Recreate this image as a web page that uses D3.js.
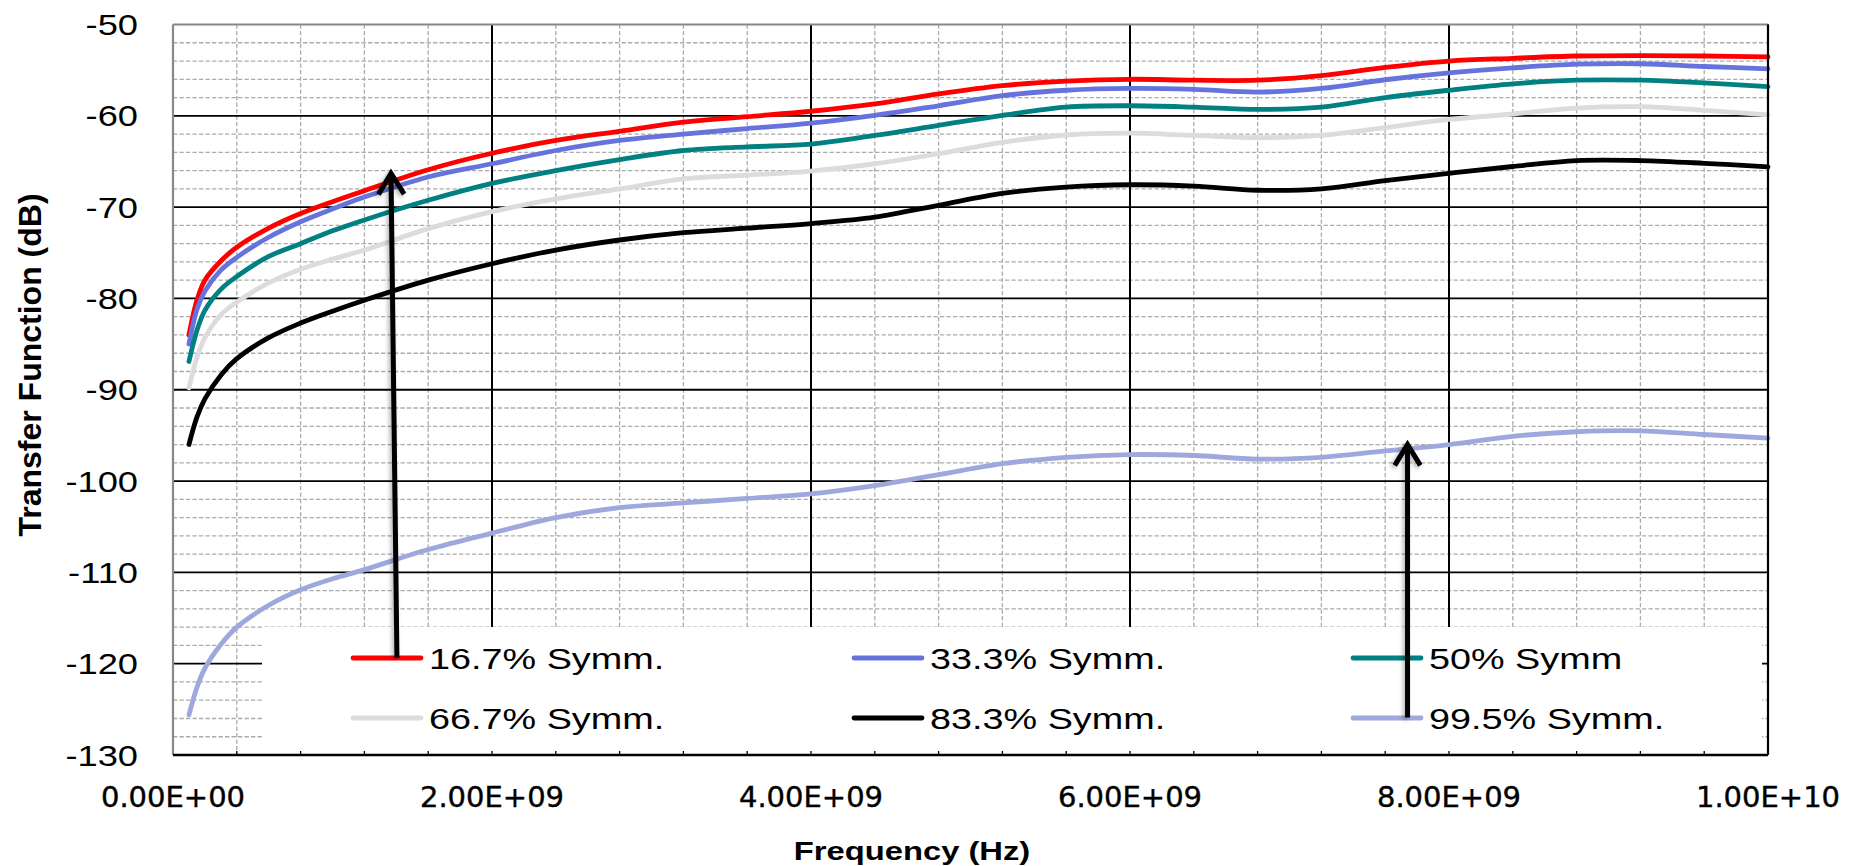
<!DOCTYPE html>
<html>
<head>
<meta charset="utf-8">
<script src="https://cdn.jsdelivr.net/npm/d3@7/dist/d3.min.js"></script>
<style>
  html, body { margin: 0; padding: 0; background: #fff; }
  svg { display: block; }
</style>
</head>
<body>
<svg id="chart" width="1863" height="866"></svg>
<script>
// Frequency sample points (GHz)
const freqGHz = [0.1, 0.15, 0.2, 0.3, 0.4, 0.6, 0.8, 1.0, 1.2, 1.6, 2.0, 2.4, 2.8, 3.2, 3.6, 4.0,
                 4.4, 4.8, 5.2, 5.6, 6.0, 6.4, 6.8, 7.2, 7.6, 8.0, 8.4, 8.8, 9.2, 9.6, 10.0];

// Transfer function (dB) for each symmetry level
const sym167 = [-84.0, -80.2, -78.0, -75.9, -74.4, -72.3, -70.7, -69.4, -68.2, -65.9, -64.1, -62.7, -61.7, -60.7, -60.1, -59.5,
                -58.7, -57.6, -56.7, -56.2, -56.0, -56.1, -56.1, -55.6, -54.7, -54.0, -53.7, -53.45, -53.4, -53.45, -53.55];
const sym333 = [-85.0, -81.2, -79.2, -76.9, -75.5, -73.3, -71.6, -70.2, -68.9, -66.7, -65.25, -63.8, -62.7, -62.0, -61.4, -60.8,
                -59.95, -58.9, -57.8, -57.2, -57.0, -57.1, -57.4, -57.0, -56.05, -55.3, -54.75, -54.35, -54.3, -54.6, -54.85];
const sym500 = [-86.9, -83.5, -81.3, -79.0, -77.6, -75.4, -74.0, -72.6, -71.4, -69.25, -67.4, -66.0, -64.8, -63.8, -63.4, -63.1,
                -62.15, -61.05, -59.95, -59.05, -58.9, -59.05, -59.3, -59.05, -58.0, -57.2, -56.5, -56.1, -56.1, -56.4, -56.8];
const sym667 = [-89.8, -86.5, -84.3, -81.8, -80.4, -78.3, -76.8, -75.7, -74.7, -72.35, -70.5, -69.1, -68.0, -66.9, -66.5, -66.05,
                -65.25, -64.15, -62.9, -62.1, -61.9, -62.15, -62.4, -62.15, -61.3, -60.4, -59.8, -59.15, -59.0, -59.4, -59.9];
const sym833 = [-96.0, -93.0, -91.0, -88.4, -86.6, -84.3, -82.7, -81.4, -80.2, -78.0, -76.2, -74.7, -73.6, -72.8, -72.3, -71.8,
                -71.1, -69.8, -68.5, -67.8, -67.55, -67.7, -68.15, -68.0, -67.1, -66.3, -65.55, -64.9, -64.9, -65.2, -65.6];
const sym995 = [-125.6, -122.6, -120.5, -117.9, -116.0, -113.6, -111.9, -110.7, -109.7, -107.5, -105.7, -104.0, -102.9, -102.4, -101.9, -101.4,
                -100.5, -99.3, -98.1, -97.4, -97.1, -97.2, -97.6, -97.4, -96.7, -96.0, -95.1, -94.6, -94.5, -94.9, -95.3];

const seriesNames = ["16.7% Symm.", "33.3% Symm.", "50% Symm", "66.7% Symm.", "83.3% Symm.", "99.5% Symm."];
const seriesValues = [sym167, sym333, sym500, sym667, sym833, sym995];
const seriesColors = ["#ff0000", "#6673dc", "#008080", "#dcdcdc", "#000000", "#9fa8dc"];

// Axis ticks
const xTickValues = [0, 2e9, 4e9, 6e9, 8e9, 1e10];
const xTickLabels = ["0.00E+00", "2.00E+09", "4.00E+09", "6.00E+09", "8.00E+09", "1.00E+10"];
const yTickValues = [-50, -60, -70, -80, -90, -100, -110, -120, -130];

// Arrows pointing from legend entries up to their curves (Hz, dB)
const arrowNotes = [
  { x0: 1.404e9, y0: -119.35, x1: 1.367e9, y1: -66.3 },
  { x0: 7.74e9,  y0: -125.9,  x1: 7.74e9,  y1: -96.0 }
];

const svg = d3.select("#chart");
const plot = { left: 173, right: 1768, top: 24.5, bottom: 755 };

const x = d3.scaleLinear().domain([0, 1e10]).range([plot.left, plot.right]);
const y = d3.scaleLinear().domain([-130, -50]).range([plot.bottom, plot.top]);

const defs = svg.append("defs");
const sh = defs.append("filter").attr("id", "shadow").attr("x", "-50%").attr("y", "-10%").attr("width", "200%").attr("height", "120%");
sh.append("feDropShadow").attr("dx", -2).attr("dy", 2).attr("stdDeviation", 2).attr("flood-color", "#000").attr("flood-opacity", 0.3);

// Minor gridlines (dashed grey)
const minorX = d3.range(0.4e9, 1e10, 0.4e9).filter(v => Math.abs(v / 2e9 - Math.round(v / 2e9)) > 1e-6);
const minorY = d3.range(-128, -50, 2).filter(v => v % 10 !== 0);
const grid = svg.append("g");
grid.selectAll("line.mx").data(minorX).join("line")
  .attr("x1", d => x(d)).attr("x2", d => x(d)).attr("y1", plot.top).attr("y2", plot.bottom)
  .attr("stroke", "#ababab").attr("stroke-width", 1.3).attr("stroke-dasharray", "4.3,2.2");
grid.selectAll("line.my").data(minorY).join("line")
  .attr("x1", plot.left).attr("x2", plot.right).attr("y1", d => y(d)).attr("y2", d => y(d))
  .attr("stroke", "#ababab").attr("stroke-width", 1.3).attr("stroke-dasharray", "4.3,2.2");

// Major gridlines (solid black)
grid.selectAll("line.Mx").data(xTickValues.slice(1)).join("line")
  .attr("x1", d => x(d)).attr("x2", d => x(d)).attr("y1", plot.top).attr("y2", plot.bottom)
  .attr("stroke", "#000").attr("stroke-width", 2);
grid.selectAll("line.My").data(yTickValues.filter(v => v !== -50 && v !== -130)).join("line")
  .attr("x1", plot.left).attr("x2", plot.right).attr("y1", d => y(d)).attr("y2", d => y(d))
  .attr("stroke", "#000").attr("stroke-width", 1.8);

// Plot area border (grey top and left)
svg.append("line").attr("x1", plot.left).attr("x2", plot.right).attr("y1", plot.top).attr("y2", plot.top)
  .attr("stroke", "#888").attr("stroke-width", 2.2);
svg.append("line").attr("x1", plot.left).attr("x2", plot.left).attr("y1", plot.top).attr("y2", plot.bottom)
  .attr("stroke", "#888").attr("stroke-width", 2.2);

// Series lines
const line = d3.line()
  .x((d, i) => x(freqGHz[i] * 1e9))
  .y(d => y(d))
  .curve(d3.curveCatmullRom.alpha(0.5));

const seriesG = svg.append("g");
seriesValues.forEach((vals, k) => {
  seriesG.append("path")
    .attr("d", line(vals))
    .attr("fill", "none")
    .attr("stroke", seriesColors[k])
    .attr("stroke-width", 4.8)
    .attr("stroke-linecap", "round")
    .attr("stroke-linejoin", "round");
});

// Legend
const legend = svg.append("g");
legend.append("rect").attr("x", 262).attr("y", 627).attr("width", 1500).attr("height", plot.bottom - 627)
  .attr("fill", "#fff");
const legCols = [353, 854, 1353];
const legRows = [658, 718];
seriesNames.forEach((name, k) => {
  const cx = legCols[k % 3], cy = legRows[Math.floor(k / 3)];
  legend.append("line").attr("x1", cx).attr("x2", cx + 68).attr("y1", cy).attr("y2", cy)
    .attr("stroke", seriesColors[k]).attr("stroke-width", 4.8).attr("stroke-linecap", "round");
  legend.append("text")
    .attr("transform", `translate(${cx + 76},${cy + 10.5}) scale(1.26,1)`)
    .attr("font-family", "Liberation Sans, Arial, sans-serif")
    .attr("font-size", 30)
    .attr("fill", "#000")
    .text(name);
});

// Right edge and x axis
svg.append("line").attr("x1", plot.right).attr("x2", plot.right).attr("y1", plot.top).attr("y2", plot.bottom)
  .attr("stroke", "#000").attr("stroke-width", 2.2);
const xAxisG = svg.append("g");
xAxisG.append("line").attr("x1", plot.left).attr("x2", plot.right).attr("y1", plot.bottom).attr("y2", plot.bottom)
  .attr("stroke", "#000").attr("stroke-width", 2.4);
xAxisG.selectAll("line.t").data(d3.range(0.4e9, 1e10, 0.4e9)).join("line")
  .attr("x1", d => x(d)).attr("x2", d => x(d)).attr("y1", plot.bottom).attr("y2", plot.bottom - 4)
  .attr("stroke", "#000").attr("stroke-width", 1.3);

// X tick labels
xAxisG.selectAll("text").data(xTickValues).join("text")
  .attr("x", d => x(d)).attr("y", 807)
  .attr("text-anchor", "middle")
  .attr("font-family", "DejaVu Sans, Verdana, sans-serif")
  .attr("font-size", 29)
  .attr("fill", "#000")
  .attr("stroke", "#000").attr("stroke-width", 0.4)
  .text((d, i) => xTickLabels[i]);

// Y tick labels
svg.append("g").selectAll("text").data(yTickValues).join("text")
  .attr("transform", d => `translate(138,${y(d) + 10.5}) scale(1.23,1)`)
  .attr("text-anchor", "end")
  .attr("font-family", "Liberation Sans, Arial, sans-serif")
  .attr("font-size", 29.5)
  .attr("fill", "#000")
  .text(d => d);

// Axis titles
svg.append("text")
  .attr("transform", `translate(912,860) scale(1.26,1)`)
  .attr("text-anchor", "middle")
  .attr("font-family", "Liberation Sans, Arial, sans-serif")
  .attr("font-weight", "bold")
  .attr("font-size", 26)
  .text("Frequency (Hz)");
svg.append("text")
  .attr("transform", `translate(41,365) rotate(-90)`)
  .attr("text-anchor", "middle")
  .attr("font-family", "Liberation Sans, Arial, sans-serif")
  .attr("font-weight", "bold")
  .attr("font-size", 32)
  .text("Transfer Function (dB)");

// Arrows
const arrowG = svg.append("g").attr("filter", "url(#shadow)");
arrowNotes.forEach(a => {
  const X0 = x(a.x0), Y0 = y(a.y0), X1 = x(a.x1), Y1 = y(a.y1);
  const ang = Math.atan2(Y1 - Y0, X1 - X0);
  arrowG.append("line").attr("x1", X0).attr("y1", Y0).attr("x2", X1).attr("y2", Y1 + 3)
    .attr("stroke", "#000").attr("stroke-width", 5);
  const len = 22, spread = 0.55;
  const p1 = [X1 - len * Math.cos(ang - spread), Y1 - len * Math.sin(ang - spread)];
  const p2 = [X1 - len * Math.cos(ang + spread), Y1 - len * Math.sin(ang + spread)];
  arrowG.append("path")
    .attr("d", `M${p1[0]},${p1[1]} L${X1},${Y1} L${p2[0]},${p2[1]}`)
    .attr("fill", "none").attr("stroke", "#000").attr("stroke-width", 5)
    .attr("stroke-linejoin", "miter").attr("stroke-linecap", "square");
});
</script>
</body>
</html>
